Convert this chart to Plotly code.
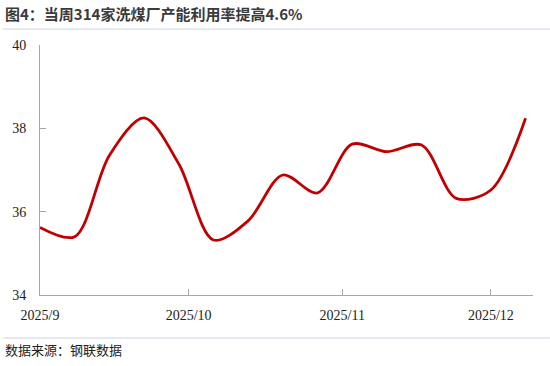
import plotly.graph_objects as go

dates = ["2025-09-01", "2025-09-08", "2025-09-15", "2025-09-22", "2025-09-29",
         "2025-10-06", "2025-10-13", "2025-10-20", "2025-10-27", "2025-11-03",
         "2025-11-10", "2025-11-17", "2025-11-24", "2025-12-01", "2025-12-08"]
values = [35.62, 35.40, 37.35, 38.25, 37.15, 35.32, 35.78, 36.88, 36.45, 37.62,
          37.44, 37.60, 36.32, 36.52, 38.24]
x_tickvals = ["2025-09-01", "2025-10-01", "2025-11-01", "2025-12-01"]
x_ticktext = ["2025/9", "2025/10", "2025/11", "2025/12"]
y_tickvals = [34, 36, 38, 40]

fig = go.Figure()
fig.add_trace(go.Scatter(
    x=dates, y=values, mode="lines",
    line=dict(color="#C00000", width=2.8, shape="spline", smoothing=0.9),
    hoverinfo="skip", showlegend=False,
))

axis_font = dict(family="Liberation Serif, Times New Roman, serif", size=14, color="#222222")
fig.update_layout(
    width=550, height=366,
    margin=dict(l=37, r=17, t=45, b=71),
    paper_bgcolor="white", plot_bgcolor="white",
    xaxis=dict(
        type="date", range=["2025-09-01", "2025-12-09 12:00"],
        tickvals=x_tickvals, ticktext=x_ticktext,
        showgrid=False, zeroline=False,
        showline=True, linecolor="#A6A6A6", linewidth=1,
        ticks="inside", ticklen=6, tickcolor="#A6A6A6",
        tickfont=axis_font, ticklabelstandoff=7,
    ),
    yaxis=dict(
        range=[34, 40], tickvals=y_tickvals,
        showgrid=False, zeroline=False,
        showline=True, linecolor="#A6A6A6", linewidth=1,
        ticks="inside", ticklen=6, tickcolor="#A6A6A6",
        tickfont=axis_font, ticklabelstandoff=10,
    ),
    annotations=[
        dict(text="<b>图4：当周314家洗煤厂产能利用率提高4.6%</b>",
             xref="paper", yref="paper", x=0, y=1, xanchor="left", yanchor="middle",
             font=dict(family="Noto Sans CJK SC", size=15, color="#3A3A3A"),
             showarrow=False),
        dict(text="数据来源：钢联数据",
             xref="paper", yref="paper", x=0, y=0, xanchor="left", yanchor="middle",
             font=dict(family="Noto Sans CJK SC", size=13, color="#222222"),
             showarrow=False),
    ],
    shapes=[
        dict(type="line", xref="paper", yref="paper", x0=0, x1=1, y0=0, y1=0,
             line=dict(color="#C9D3E6", width=1)),
        dict(type="line", xref="paper", yref="paper", x0=0, x1=1, y0=0, y1=0,
             line=dict(color="#C9D3E6", width=1)),
    ],
)

plot_top, plot_bottom = 45, 295
ph = plot_bottom - plot_top
def py(ypix):
    return (plot_bottom - ypix) / ph

fig.layout.annotations[0].update(x=-37/496, y=py(14))
fig.layout.annotations[1].update(x=-37/496, y=py(349))
fig.layout.shapes[0].update(x0=-37/496, x1=(550-37)/496, y0=py(29), y1=py(29))
fig.layout.shapes[1].update(x0=-37/496, x1=(550-37)/496, y0=py(338), y1=py(338))

fig.write_html("out.html")
